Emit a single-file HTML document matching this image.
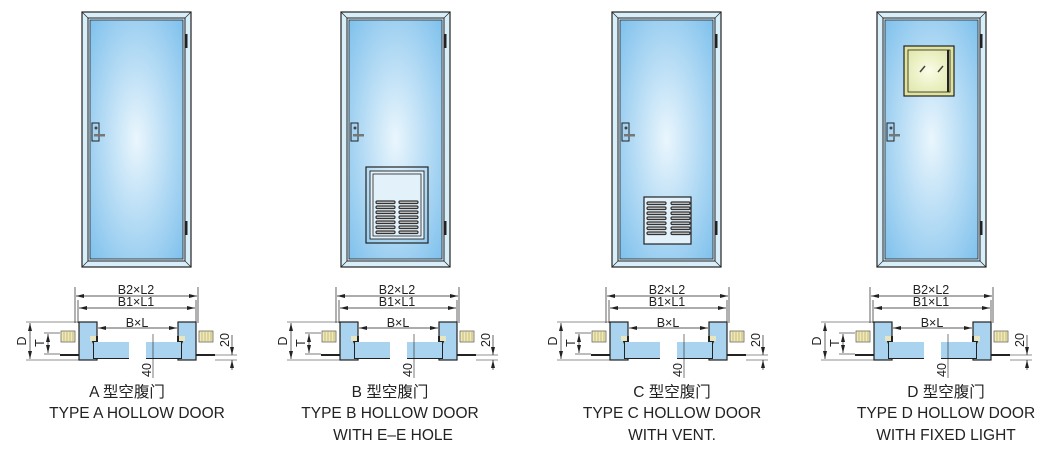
<!DOCTYPE html>
<html><head><meta charset="utf-8"><style>
html,body{margin:0;padding:0;background:#fff;}
svg{display:block;}
text{font-family:"Liberation Sans","Noto Sans CJK SC",sans-serif;fill:#222;}
</style></head><body>
<svg width="1040" height="460" viewBox="0 0 1040 460" xmlns="http://www.w3.org/2000/svg">
<defs>
<radialGradient id="g" cx="0.5" cy="0.5" r="0.75">
<stop offset="0" stop-color="#eaf6fd"/><stop offset="1" stop-color="#78bdeb"/></radialGradient>
<radialGradient id="gy" cx="0.5" cy="0.5" r="0.7">
<stop offset="0" stop-color="#fbfde6"/><stop offset="1" stop-color="#dfe6a8"/></radialGradient>
<marker id="ar" markerWidth="8" markerHeight="6" refX="8" refY="3" orient="auto-start-reverse" markerUnits="userSpaceOnUse"><path d="M0,1 L8,3 L0,5z" fill="#222"/></marker>
<g id="door">
<rect x="82" y="12" width="109" height="255" fill="#d8eef9" stroke="#222" stroke-width="1.2"/>
<line x1="82" y1="12" x2="88" y2="18" stroke="#222" stroke-width="0.6"/>
<line x1="191" y1="12" x2="185" y2="18" stroke="#222" stroke-width="0.6"/>
<line x1="82" y1="267" x2="88" y2="261" stroke="#222" stroke-width="0.6"/>
<line x1="191" y1="267" x2="185" y2="261" stroke="#222" stroke-width="0.6"/>
<rect x="88" y="18" width="97" height="243" fill="none" stroke="#222" stroke-width="1"/>
<rect x="90" y="20" width="93" height="239" fill="url(#g)" stroke="#222" stroke-width="0.8"/>
<rect x="92" y="123" width="7" height="18" fill="none" stroke="#222" stroke-width="1"/>
<circle cx="96" cy="128" r="1.5" fill="#444"/>
<rect x="94" y="134" width="11" height="2.5" fill="#777"/>
<rect x="185" y="34" width="2.5" height="14" fill="#222"/>
<rect x="185" y="221" width="2.5" height="14" fill="#222"/>
</g>
<g id="coil">
<rect x="0" y="0" width="14" height="11" fill="#f1eab8" stroke="#555" stroke-width="0.7"/>
<path d="M3,0v11M6,0v11M9,0v11M12,0v11" stroke="#b8ad70" stroke-width="0.8"/>
</g>
<g id="sec">
<line x1="75" y1="287" x2="75" y2="323" stroke="#222" stroke-width="0.7"/>
<line x1="198" y1="287" x2="198" y2="323" stroke="#222" stroke-width="0.7"/>
<line x1="78" y1="300" x2="78" y2="323" stroke="#222" stroke-width="0.7"/>
<line x1="196" y1="300" x2="196" y2="323" stroke="#222" stroke-width="0.7"/>
<line x1="76" y1="296" x2="197" y2="296" stroke="#222" stroke-width="0.7" marker-end="url(#ar)" marker-start="url(#ar)"/>
<line x1="79" y1="308" x2="195" y2="308" stroke="#222" stroke-width="0.7" marker-end="url(#ar)" marker-start="url(#ar)"/>
<line x1="98" y1="328" x2="177" y2="328" stroke="#222" stroke-width="0.7" marker-end="url(#ar)" marker-start="url(#ar)"/>
<rect x="79" y="322" width="18" height="38" fill="#a9d3ee" stroke="#222" stroke-width="1.2"/>
<rect x="178" y="322" width="18" height="38" fill="#a9d3ee" stroke="#222" stroke-width="1.2"/>
<path d="M90,336 h8 v6 h31 v17 h-36 v-15z" fill="#222"/>
<rect x="94" y="342" width="35" height="16" fill="#a9d3ee"/>
<rect x="90" y="336" width="6" height="5" fill="#e8e6c0"/>
<path d="M185,336 h-8 v6 h-31 v17 h36 v-15z" fill="#222"/>
<rect x="146" y="342" width="35" height="16" fill="#a9d3ee"/>
<rect x="179" y="336" width="6" height="5" fill="#e8e6c0"/>
<use href="#coil" x="61" y="331"/>
<use href="#coil" x="199" y="331"/>
<line x1="60" y1="355" x2="79" y2="355" stroke="#222" stroke-width="2"/>
<line x1="196" y1="355" x2="215" y2="355" stroke="#222" stroke-width="2"/>
<line x1="26" y1="322" x2="79" y2="322" stroke="#222" stroke-width="0.6"/>
<line x1="26" y1="360" x2="79" y2="360" stroke="#222" stroke-width="0.6"/>
<line x1="30" y1="323" x2="30" y2="359" stroke="#222" stroke-width="0.7" marker-end="url(#ar)" marker-start="url(#ar)"/>
<line x1="44" y1="333" x2="60" y2="333" stroke="#222" stroke-width="0.6"/>
<line x1="44" y1="354" x2="60" y2="354" stroke="#222" stroke-width="0.6"/>
<line x1="48" y1="334" x2="48" y2="353" stroke="#222" stroke-width="0.7" marker-end="url(#ar)" marker-start="url(#ar)"/>
<line x1="215" y1="355" x2="237" y2="355" stroke="#222" stroke-width="0.6"/>
<line x1="215" y1="360" x2="237" y2="360" stroke="#222" stroke-width="0.6"/>
<line x1="232" y1="335" x2="232" y2="355" stroke="#222" stroke-width="0.7" marker-end="url(#ar)"/>
<line x1="232" y1="370" x2="232" y2="360" stroke="#222" stroke-width="0.7" marker-end="url(#ar)"/>
<line x1="153" y1="334" x2="153" y2="378" stroke="#222" stroke-width="0.6"/>
<text x="136" y="294" font-size="12.5" text-anchor="middle">B2×L2</text>
<text x="136" y="306" font-size="12.5" text-anchor="middle">B1×L1</text>
<text x="137" y="327" font-size="12.5" text-anchor="middle">B×L</text>
<text transform="translate(26,341) rotate(-90)" font-size="12.5" text-anchor="middle">D</text>
<text transform="translate(44,343) rotate(-90)" font-size="12.5" text-anchor="middle">T</text>
<text transform="translate(229,340) rotate(-90)" font-size="12.5" text-anchor="middle">20</text>
<text transform="translate(151,370) rotate(-90)" font-size="12.5" text-anchor="middle">40</text>
</g>
<g id="louver">
<g stroke="#333" stroke-width="1.2" fill="#ccc">
<rect x="0" y="0" width="19" height="2.5" rx="1.2"/><rect x="0" y="5" width="19" height="2.5" rx="1.2"/>
<rect x="0" y="10" width="19" height="2.5" rx="1.2"/><rect x="0" y="15" width="19" height="2.5" rx="1.2"/>
<rect x="0" y="20" width="19" height="2.5" rx="1.2"/><rect x="0" y="25" width="19" height="2.5" rx="1.2"/>
<rect x="0" y="30" width="19" height="2.5" rx="1.2"/>
</g></g>
</defs>

<use href="#door"/>
<use href="#door" x="259"/>
<use href="#door" x="530"/>
<use href="#door" x="795"/>
<use href="#sec"/>
<use href="#sec" x="261"/>
<use href="#sec" x="531"/>
<use href="#sec" x="795"/>

<rect x="366" y="167" width="62" height="76" fill="none" stroke="#222" stroke-width="1.2"/>
<rect x="370" y="171" width="54" height="68" fill="#e2f1fa" stroke="#222" stroke-width="0.9"/>
<rect x="373" y="174" width="48" height="62" fill="none" stroke="#222" stroke-width="0.8"/>
<use href="#louver" x="376" y="201"/>
<use href="#louver" x="399" y="201"/>
<rect x="644" y="197" width="47" height="47" fill="#e2f1fa" stroke="#222" stroke-width="1.2"/>
<use href="#louver" x="647" y="202"/>
<use href="#louver" x="671" y="202"/>
<rect x="904" y="46" width="50" height="50" fill="#e0e49a" stroke="#222" stroke-width="1.2"/>
<rect x="908" y="50" width="42" height="42" fill="url(#gy)" stroke="#222" stroke-width="0.8"/>
<line x1="948" y1="50" x2="948" y2="92" stroke="#222" stroke-width="2"/>
<line x1="920" y1="72" x2="925" y2="66" stroke="#444" stroke-width="1.5"/>
<line x1="938" y1="72" x2="943" y2="66" stroke="#444" stroke-width="1.5"/>

<g font-size="15.5" text-anchor="middle">
<text x="127" y="397">A 型空腹门</text>
<text x="137" y="418">TYPE A HOLLOW DOOR</text>
<text x="390" y="397">B 型空腹门</text>
<text x="390" y="418">TYPE B HOLLOW DOOR</text>
<text x="393" y="440">WITH E–E HOLE</text>
<text x="672" y="397">C 型空腹门</text>
<text x="672" y="418">TYPE C HOLLOW DOOR</text>
<text x="672" y="440">WITH VENT.</text>
<text x="946" y="397">D 型空腹门</text>
<text x="946" y="418">TYPE D HOLLOW DOOR</text>
<text x="946" y="440">WITH FIXED LIGHT</text>
</g>
</svg>
</body></html>
